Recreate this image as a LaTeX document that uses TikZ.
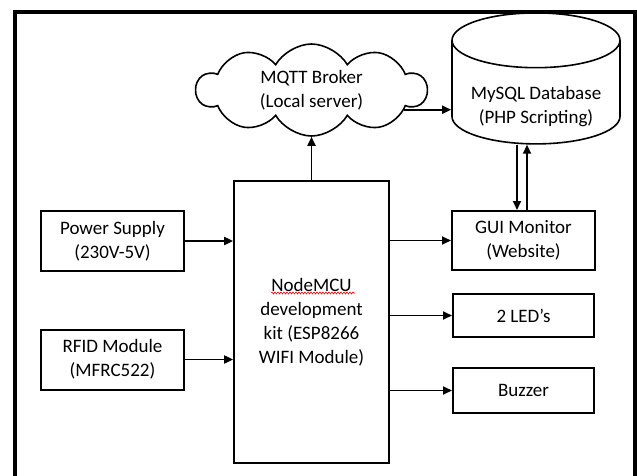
\documentclass[tikz,border=0pt]{standalone}
\usepackage{fontspec}
\setmainfont{Carlito}
\usetikzlibrary{arrows.meta,shapes.symbols,shapes.geometric,decorations.pathmorphing}

\begin{document}
\begin{tikzpicture}[x=1pt,y=-1pt,>={Triangle[length=9pt,width=8pt]},
  txt/.style={align=center,font=\fontsize{19}{24}\selectfont},
  blk/.style={draw,line width=2pt,inner sep=0pt,txt},
  arr/.style={->,line width=1.8pt}]
  \useasboundingbox (0,0) rectangle (637,476);
  % outer frame, open at the bottom
  \draw[line width=3.2pt] (15,480) -- (15,12) -- (635,12) -- (635,480);

  \node[blk,minimum width=155,minimum height=282,line width=1.7pt] (mcu) at (311.5,322) {NodeMCU\\development\\kit (ESP8266\\WIFI Module)};
  \node[blk,minimum width=143,minimum height=60] (power) at (112.5,241) {Power Supply\\(230V-5V)};
  \node[blk,minimum width=143,minimum height=60] (rfid) at (112.5,359.5) {RFID Module\\(MFRC522)};
  \node[blk,minimum width=143,minimum height=59] (gui) at (523.5,240.5) {GUI Monitor\\(Website)};
  \node[blk,minimum width=141,minimum height=43] (led) at (523.5,315.5) {2 LED’s};
  \node[blk,minimum width=141,minimum height=45] (buzzer) at (523.5,390.5) {Buzzer};
  \node[blk,cloud,cloud puffs=10,cloud puff arc=120,cloud ignores aspect,minimum width=230,minimum height=92,line width=1.6pt] (cloud) at (311.5,90) {MQTT Broker\\(Local server)};
  \node[blk,cylinder,shape border rotate=90,aspect=0.42,minimum width=168,minimum height=119,line width=1.6pt] (db) at (536,92.5)
    {\raisebox{-14pt}[\height][\depth]{\begin{tabular}{@{}c@{}}MySQL Database\\(PHP Scripting)\end{tabular}}};

  % spell-check mark
  \draw[red,line width=0.6pt,decorate,decoration={snake,amplitude=1pt,segment length=3pt}] (271,293) -- (355,293);

  \draw[arr] (power) -- (power -| mcu.west);
  \draw[arr] (rfid) -- (rfid -| mcu.west);
  \draw[arr] (mcu.east |- gui) -- (gui);
  \draw[arr] (mcu.east |- led) -- (led);
  \draw[arr] (mcu.east |- buzzer) -- (buzzer);
  \draw[arr] (mcu) -- (cloud);
  \draw[arr] (cloud.-12) -- (cloud.-12 -| db.west);
  \draw[arr] ([xshift=-6.5]gui.north |- db.south) -- ([xshift=-6.5]gui.north);
  \draw[arr] ([xshift=3.5]gui.north) -- ([xshift=3.5]gui.north |- db.south);
\end{tikzpicture}
\end{document}
